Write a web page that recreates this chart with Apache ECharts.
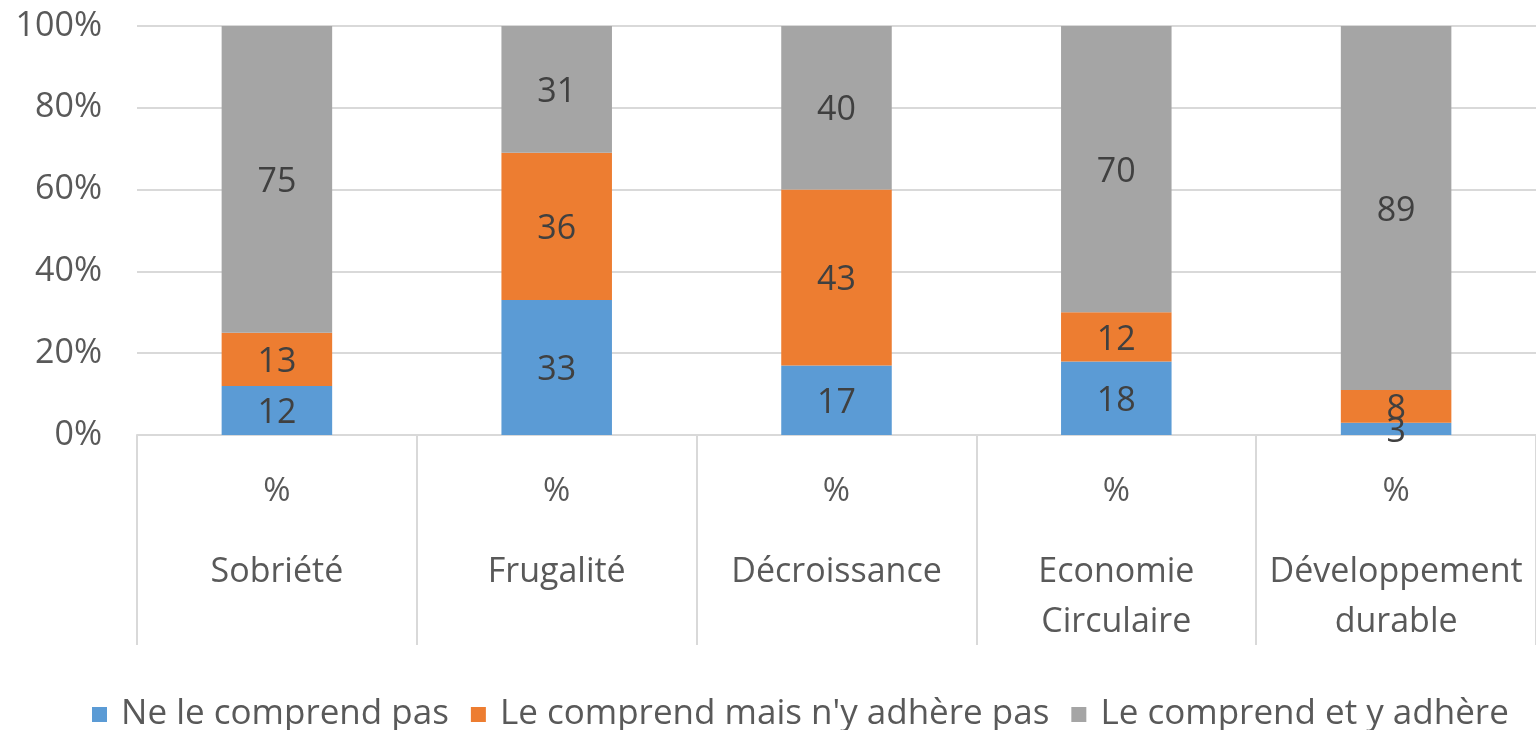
<!DOCTYPE html>
<html>
<head>
<meta charset="utf-8">
<script src="https://cdn.jsdelivr.net/npm/echarts@6/dist/echarts.min.js"></script>
<style>html,body{margin:0;padding:0;background:#fff;}#c{width:1536px;height:730px;}</style>
</head>
<body>
<div id="c"></div>
<script>
const categories = ['Sobriété', 'Frugalité', 'Décroissance', 'Economie\nCirculaire', 'Développement\ndurable'];
const seriesNames = ['Ne le comprend pas', "Le comprend mais n'y adhère pas", 'Le comprend et y adhère'];
const neComprendPas = [12, 33, 17, 18, 3];
const comprendMaisNAdherePas = [13, 36, 43, 12, 8];
const comprendEtAdhere = [75, 31, 40, 70, 89];
const yTicks = [0, 20, 40, 60, 80, 100];

const FONT = 'Open Sans';
const colors = ['#5B9BD5', '#ED7D31', '#A5A5A5'];
const values = [neComprendPas, comprendMaisNAdherePas, comprendEtAdhere];

const chart = echarts.init(document.getElementById('c'));
chart.setOption({
  animation: false,
  textStyle: { fontFamily: FONT },
  grid: { left: 137, right: -4, top: 26, bottom: 295, containLabel: false },
  legend: {
    left: 87, top: 692,
    itemWidth: 15, itemHeight: 15, itemGap: 22,
    icon: 'rect',
    formatter: n => ' ' + n,
    textStyle: { fontFamily: FONT, fontSize: 35, color: '#595959' },
    data: seriesNames
  },
  xAxis: {
    type: 'category',
    data: categories,
    axisLine: { lineStyle: { color: '#d9d9d9', width: 2 } },
    axisTick: { show: true, length: 210, lineStyle: { color: '#d9d9d9', width: 2 } },
    axisLabel: {
      interval: 0, margin: 2,
      formatter: function (v) {
        const parts = v.split('\n').map(p => '{n|' + p + '}');
        return '{p|%}\n' + parts.join('\n');
      },
      rich: {
        p: { fontFamily: FONT, fontSize: 33, color: '#595959', lineHeight: 110 },
        n: { fontFamily: FONT, fontSize: 34, color: '#595959', lineHeight: 50 }
      }
    }
  },
  yAxis: {
    type: 'value', min: 0, max: 100, interval: 20,
    axisLine: { show: false }, axisTick: { show: false },
    splitLine: { lineStyle: { color: '#d9d9d9', width: 2 } },
    axisLabel: { margin: 35, fontFamily: FONT, fontSize: 34, color: '#595959', formatter: v => yTicks.includes(v) ? v + '%' : '' }
  },
  series: seriesNames.map((name, i) => ({
    name: name,
    type: 'bar',
    stack: 'total',
    barWidth: '39.5%',
    itemStyle: { color: colors[i] },
    label: { show: true, position: 'inside', offset: [0, 3], fontFamily: FONT, fontSize: 34, color: '#404040' },
    data: values[i]
  }))
});
</script>
</body>
</html>
